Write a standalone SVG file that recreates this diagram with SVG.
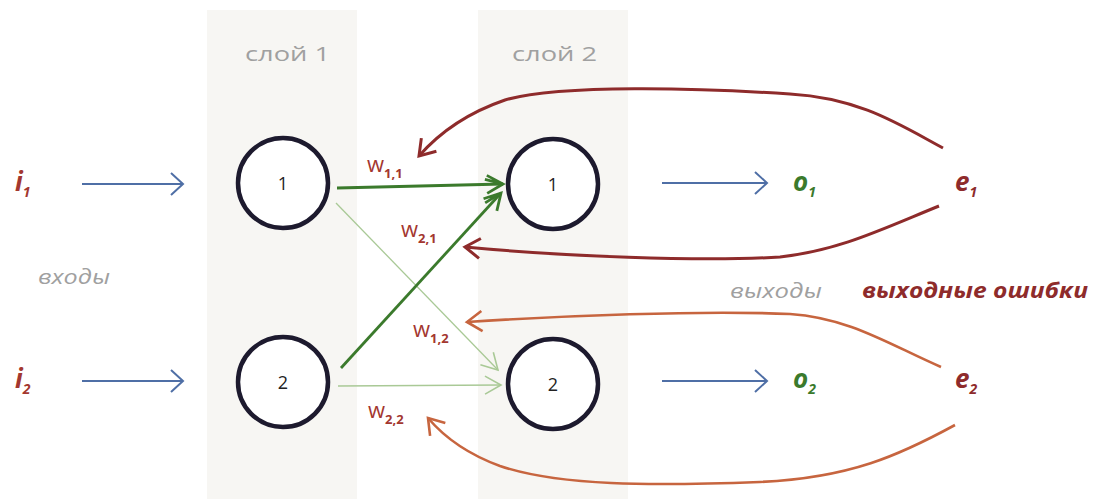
<svg xmlns="http://www.w3.org/2000/svg" width="1094" height="499" viewBox="0 0 1094 499">
<defs>
<style>
.bg{fill:#f7f6f3}
.node{fill:#ffffff;stroke:#1d1a2e;stroke-width:4.5}
.num{font-family:"Open Sans","Liberation Sans",sans-serif;font-size:18px;fill:#222;text-anchor:middle}
.lbl{font-family:"Open Sans","Liberation Sans",sans-serif;font-style:italic;fill:#a0a0a0;font-size:20px}
.var{font-family:"Open Sans","Liberation Sans",sans-serif;font-weight:bold;font-style:italic;font-size:26px}
.sub{font-size:14px}
.w{font-family:"Open Sans","Liberation Sans",sans-serif;fill:#a3372f;font-size:22px}
.ws{font-size:13px;font-weight:bold}
.blue{stroke:#4f6fa6;stroke-width:2;fill:none}
.g1{stroke:#3b7a2c;stroke-width:2.8;fill:none}
.g2{stroke:#a9c996;stroke-width:1.3;fill:none}
.r1{stroke:#8e2b2b;stroke-width:3;fill:none}
.r2{stroke:#c7653f;stroke-width:2.6;fill:none}
</style>
<marker id="mb" markerUnits="userSpaceOnUse" markerWidth="30" markerHeight="30" refX="20" refY="15" orient="auto"><path d="M8,4 L20,15 L8,26" fill="none" stroke="#4f6fa6" stroke-width="2"/></marker>
<marker id="mg1" markerUnits="userSpaceOnUse" markerWidth="30" markerHeight="30" refX="22" refY="15" orient="auto"><path d="M6,6 L22,15 L6,24 M4,10 L22,15" fill="none" stroke="#3b7a2c" stroke-width="2.8"/></marker>
<marker id="mg2" markerUnits="userSpaceOnUse" markerWidth="30" markerHeight="30" refX="22" refY="15" orient="auto"><path d="M6,6 L22,15 L6,24" fill="none" stroke="#a9c996" stroke-width="1.6"/></marker>
<marker id="mr1" markerUnits="userSpaceOnUse" markerWidth="30" markerHeight="30" refX="22" refY="15" orient="auto"><path d="M7,5 L22,15 L7,25" fill="none" stroke="#8e2b2b" stroke-width="3"/></marker>
<marker id="mr2" markerUnits="userSpaceOnUse" markerWidth="30" markerHeight="30" refX="22" refY="15" orient="auto"><path d="M7,5 L22,15 L7,25" fill="none" stroke="#c7653f" stroke-width="2.6"/></marker>
</defs>
<rect width="1094" height="499" fill="#ffffff"/>
<rect class="bg" x="207" y="10" width="150" height="489"/>
<rect class="bg" x="478" y="10" width="150" height="489"/>

<text class="lbl" x="245" y="61" style="font-style:normal" textLength="85" lengthAdjust="spacingAndGlyphs">слой 1</text>
<text class="lbl" x="512" y="61" style="font-style:normal" textLength="85" lengthAdjust="spacingAndGlyphs">слой 2</text>
<text class="lbl" x="38" y="284" textLength="72" lengthAdjust="spacingAndGlyphs">входы</text>
<text class="lbl" x="730" y="298" textLength="92" lengthAdjust="spacingAndGlyphs">выходы</text>
<text x="862" y="298" font-family="'Open Sans','Liberation Sans',sans-serif" font-weight="bold" font-style="italic" font-size="21" fill="#8e2b2b" textLength="226" lengthAdjust="spacingAndGlyphs">выходные ошибки</text>

<g id="connectors">
<path class="blue" d="M82,184 L183,184" marker-end="url(#mb)"/>
<path class="blue" d="M82,381 L183,381" marker-end="url(#mb)"/>
<path class="blue" d="M662,183 L767,183" marker-end="url(#mb)"/>
<path class="blue" d="M662,381 L767,381" marker-end="url(#mb)"/>
<path class="g2" d="M336,203 L498,370" marker-end="url(#mg2)"/>
<path class="g2" d="M338,386 L501,385" marker-end="url(#mg2)"/>
<path class="g1" d="M337,188 L503,184" marker-end="url(#mg1)"/>
<path class="g1" d="M341,368 L501,193" marker-end="url(#mg1)"/>
<path class="r1" d="M943,148 C900,125 860,98 790,94 C700,88 560,84 505,100 C470,112 440,132 419,156" marker-end="url(#mr1)"/>
<path class="r1" d="M939,206 C880,230 840,250 780,257 C700,262 560,256 465,247" marker-end="url(#mr1)"/>
<path class="r2" d="M941,367 C890,345 850,318 790,314 C700,310 560,316 467,322" marker-end="url(#mr2)"/>
<path class="r2" d="M955,425 C900,455 850,478 760,482 C650,486 560,486 500,466 C470,455 445,438 428,418" marker-end="url(#mr2)"/>
</g>

<g id="n11"><circle class="node" cx="283" cy="183" r="45"/><text class="num" x="283" y="190">1</text></g>
<g id="n12"><circle class="node" cx="283" cy="382" r="45"/><text class="num" x="283" y="389">2</text></g>
<g id="n21"><circle class="node" cx="553" cy="184" r="45"/><text class="num" x="553" y="191">1</text></g>
<g id="n22"><circle class="node" cx="553" cy="384" r="45"/><text class="num" x="553" y="391">2</text></g>

<g id="i1"><text class="var" x="15" y="191" fill="#a3372f">i<tspan class="sub" dy="6">1</tspan></text></g>
<g id="i2"><text class="var" x="15" y="388" fill="#a3372f">i<tspan class="sub" dy="6">2</tspan></text></g>
<g id="o1"><text class="var" x="793" y="191" fill="#3b7a2c">o<tspan class="sub" dy="6">1</tspan></text></g>
<g id="o2"><text class="var" x="793" y="388" fill="#3b7a2c">o<tspan class="sub" dy="6">2</tspan></text></g>
<g id="e1"><text class="var" x="955" y="191" fill="#8e2b2b">e<tspan class="sub" dy="6">1</tspan></text></g>
<g id="e2"><text class="var" x="955" y="388" fill="#8e2b2b">e<tspan class="sub" dy="6">2</tspan></text></g>

<g id="weights">
<text class="w" x="367" y="172">w<tspan class="ws" dy="6">1,1</tspan></text>
<text class="w" x="401" y="237">w<tspan class="ws" dy="6">2,1</tspan></text>
<text class="w" x="413" y="337">w<tspan class="ws" dy="6">1,2</tspan></text>
<text class="w" x="368" y="418">w<tspan class="ws" dy="6">2,2</tspan></text>
</g>
</svg>
